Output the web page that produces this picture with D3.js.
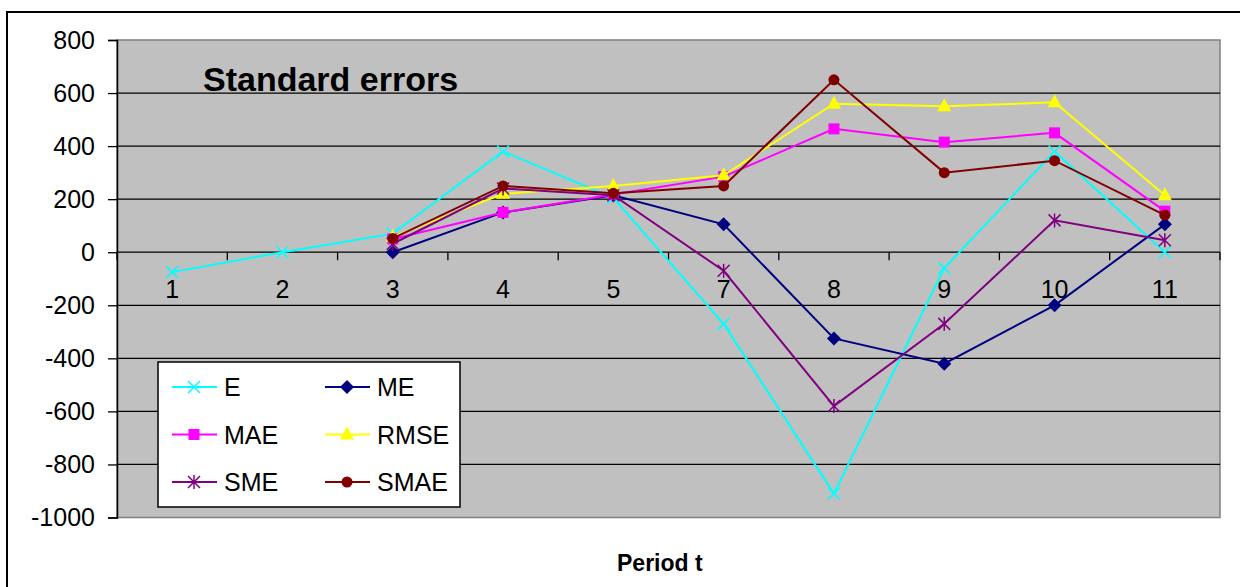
<!DOCTYPE html>
<html>
<head>
<meta charset="utf-8">
<script src="https://cdn.jsdelivr.net/npm/d3@7"></script>
<style>
  body { margin: 0; background: #fff; }
  svg { display: block; font-family: "Liberation Sans", Arial, sans-serif; }
</style>
</head>
<body>
<script>
// periods on the x axis (6 is missing in the source)
const periods = ["1", "2", "3", "4", "5", "7", "8", "9", "10", "11"];
const yTicks = [800, 600, 400, 200, 0, -200, -400, -600, -800, -1000];

const E    = [-75, 0, 70, 380, 205, -270, -910, -60, 380, 0];
const ME   = [null, null, 0, 150, 215, 105, -325, -420, -200, 105];
const MAE  = [null, null, 50, 150, 218, 285, 465, 415, 450, 155];
const RMSE = [null, null, 58, 220, 250, 290, 560, 550, 565, 215];
const SME  = [null, null, 32, 240, 215, -70, -580, -270, 120, 45];
const SMAE = [null, null, 52, 250, 222, 250, 650, 300, 345, 140];

const seriesNames = ["E", "ME", "MAE", "RMSE", "SME", "SMAE"];
const seriesValues = [E, ME, MAE, RMSE, SME, SMAE];
const colors = ["#00ffff", "#000080", "#ff00ff", "#ffff00", "#800080", "#800000"];
const markers = ["x", "diamond", "square", "triangle", "star", "circle"];

const width = 1240, height = 587;
const plot = {left: 117, right: 1220, top: 40, bottom: 517.5};

const svg = d3.select("body").append("svg")
  .attr("width", width)
  .attr("height", height);

// outer chart border
svg.append("rect")
  .attr("x", 7).attr("y", 12)
  .attr("width", 1250).attr("height", 600)
  .attr("fill", "#fff")
  .attr("stroke", "#000")
  .attr("stroke-width", 2);

let x = d3.scaleBand()
  .domain(periods)
  .range([plot.left, plot.right])
  .padding(0);

let y = d3.scaleLinear()
  .domain([-1000, 800])
  .range([plot.bottom, plot.top]);

// plot area
svg.append("rect")
  .attr("x", plot.left).attr("y", plot.top)
  .attr("width", plot.right - plot.left)
  .attr("height", plot.bottom - plot.top)
  .attr("fill", "#c0c0c0")
  .attr("stroke", "#808080")
  .attr("stroke-width", 1.5);

// gridlines
svg.selectAll(".grid")
  .data(yTicks.filter(d => d != 800 && d != -1000))
  .join("line")
  .attr("class", "grid")
  .attr("x1", plot.left).attr("x2", plot.right)
  .attr("y1", d => y(d)).attr("y2", d => y(d))
  .attr("stroke", "#000")
  .attr("stroke-width", 1.3);

// y axis
let yAxis = svg.append("g")
  .attr("transform", `translate(${plot.left},0)`)
  .call(d3.axisLeft(y).tickValues(yTicks).tickSize(9).tickPadding(13).tickFormat(d => d));
yAxis.select(".domain").attr("stroke", "#000").attr("stroke-width", 1.5);
yAxis.selectAll(".tick line").attr("stroke", "#000").attr("stroke-width", 1.3);
yAxis.selectAll(".tick text")
  .attr("font-size", 25)
  .attr("fill", "#000")
  .attr("font-family", "Liberation Sans, Arial, sans-serif");

// x axis sits on zero, ticks at band edges
let edges = periods.map(p => x(p)).concat([plot.right]);
svg.selectAll(".xtick")
  .data(edges)
  .join("line")
  .attr("class", "xtick")
  .attr("x1", d => d).attr("x2", d => d)
  .attr("y1", y(0)).attr("y2", y(0) + 8)
  .attr("stroke", "#000")
  .attr("stroke-width", 1.3);

svg.selectAll(".xlabel")
  .data(periods)
  .join("text")
  .attr("class", "xlabel")
  .attr("x", d => x(d) + x.bandwidth() / 2)
  .attr("y", y(0) + 46)
  .attr("text-anchor", "middle")
  .attr("font-size", 25)
  .text(d => d);

// markers
function drawMarker(g, type, color, cx, cy) {
  if (type == "x") {
    g.append("path")
      .attr("d", `M${cx-6},${cy-6}L${cx+6},${cy+6}M${cx-6},${cy+6}L${cx+6},${cy-6}`)
      .attr("stroke", color).attr("stroke-width", 1.5).attr("fill", "none");
  } else if (type == "star") {
    g.append("path")
      .attr("d", `M${cx-6},${cy-6}L${cx+6},${cy+6}M${cx-6},${cy+6}L${cx+6},${cy-6}M${cx},${cy-7}L${cx},${cy+7}`)
      .attr("stroke", color).attr("stroke-width", 1.5).attr("fill", "none");
  } else if (type == "diamond") {
    g.append("path")
      .attr("d", `M${cx},${cy-7}L${cx+7},${cy}L${cx},${cy+7}L${cx-7},${cy}Z`)
      .attr("fill", color);
  } else if (type == "square") {
    g.append("rect")
      .attr("x", cx - 5.5).attr("y", cy - 5.5)
      .attr("width", 11).attr("height", 11)
      .attr("fill", color);
  } else if (type == "triangle") {
    g.append("path")
      .attr("d", `M${cx},${cy-8}L${cx+7},${cy+5}L${cx-7},${cy+5}Z`)
      .attr("fill", color);
  } else if (type == "circle") {
    g.append("circle")
      .attr("cx", cx).attr("cy", cy).attr("r", 5.5)
      .attr("fill", color);
  }
}

let line = d3.line()
  .defined(d => d.v !== null)
  .x(d => x(d.p) + x.bandwidth() / 2)
  .y(d => y(d.v));

seriesValues.forEach((vals, i) => {
  let pts = periods.map((p, j) => ({p: p, v: vals[j]}));
  let g = svg.append("g");
  g.append("path")
    .datum(pts)
    .attr("d", line)
    .attr("fill", "none")
    .attr("stroke", colors[i])
    .attr("stroke-width", 2);
  pts.filter(d => d.v !== null).forEach(d => {
    drawMarker(g, markers[i], colors[i], x(d.p) + x.bandwidth() / 2, y(d.v));
  });
});

// title
svg.append("text")
  .attr("x", 203).attr("y", 91)
  .attr("font-size", 34)
  .attr("font-weight", "bold")
  .text("Standard errors");

// axis title
svg.append("text")
  .attr("x", 617).attr("y", 571)
  .attr("font-size", 23)
  .attr("font-weight", "bold")
  .text("Period t");

// legend
let legend = svg.append("g");
legend.append("rect")
  .attr("x", 158).attr("y", 362)
  .attr("width", 302).attr("height", 145)
  .attr("fill", "#fff")
  .attr("stroke", "#000")
  .attr("stroke-width", 1.5);

seriesNames.forEach((name, i) => {
  let col = i % 2, row = Math.floor(i / 2);
  let lx = 172 + col * 153;
  let ly = 387 + row * 47.5;
  legend.append("line")
    .attr("x1", lx).attr("x2", lx + 45)
    .attr("y1", ly).attr("y2", ly)
    .attr("stroke", colors[i])
    .attr("stroke-width", 2);
  drawMarker(legend, markers[i], colors[i], lx + 22, ly);
  legend.append("text")
    .attr("x", lx + 52).attr("y", ly + 9)
    .attr("font-size", 25)
    .text(name);
});
</script>
</body>
</html>
